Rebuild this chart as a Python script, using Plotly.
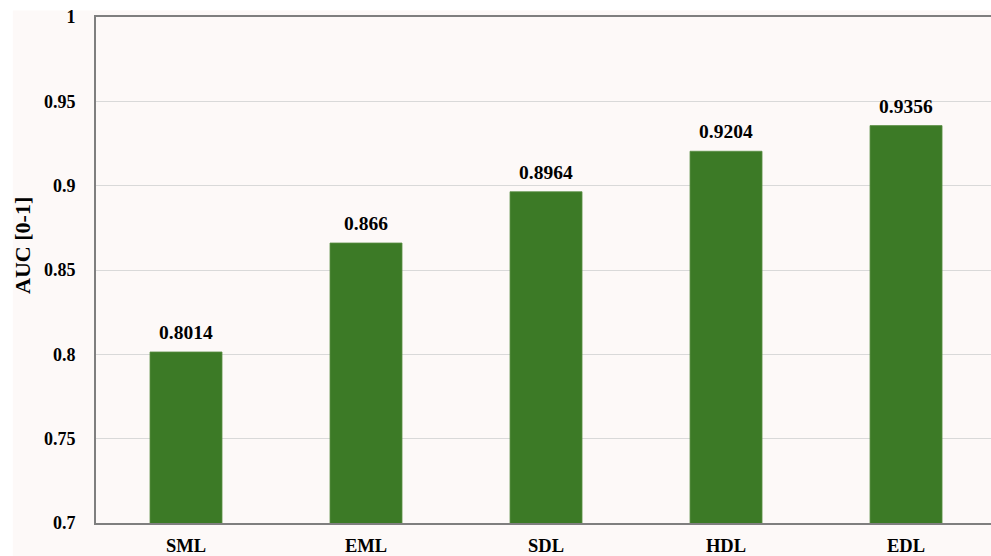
import plotly.graph_objects as go

categories = ["SML", "EML", "SDL", "HDL", "EDL"]
auc_values = [0.8014, 0.866, 0.8964, 0.9204, 0.9356]
y_ticks = [0.7, 0.75, 0.8, 0.85, 0.9, 0.95, 1.0]
y_tick_labels = ["0.7", "0.75", "0.8", "0.85", "0.9", "0.95", "1"]

FONT = "Liberation Serif, Times New Roman, serif"
BG = "#FDF9F8"

fig = go.Figure()
fig.add_trace(go.Bar(
    x=list(range(len(categories))),
    y=auc_values,
    base=0,
    width=0.4,
    marker=dict(color="#3C7A26", line=dict(color="#5A8F45", width=0.8)),
    hoverinfo="x+y",
))

for i, v in enumerate(auc_values):
    fig.add_annotation(
        x=i, y=v, text=str(v), showarrow=False, yanchor="bottom", yshift=7,
        font=dict(family=FONT, size=19.5, color="black", weight="bold"),
    )

fig.add_annotation(
    xref="paper", yref="paper", x=-0.083, y=0.549,
    text="AUC [0-1]", showarrow=False, textangle=-90,
    xanchor="center", yanchor="middle",
    font=dict(family=FONT, size=22, color="black", weight="bold"),
)

fig.add_shape(type="rect", xref="paper", yref="paper",
              x0=-0.093, x1=1.01, y0=-0.07, y1=1.0128,
              fillcolor=BG, line=dict(width=0), layer="below")

fig.update_layout(
    width=991, height=556,
    margin=dict(l=96, r=0, t=17, b=30),
    paper_bgcolor="white",
    plot_bgcolor=BG,
    showlegend=False,
    font=dict(family=FONT, size=16, color="black", weight="bold"),
    xaxis=dict(
        range=[-0.5, 4.472],
        tickmode="array",
        tickvals=list(range(len(categories))),
        ticktext=categories,
        showgrid=False,
        showline=True, linecolor="#7F7F7F", linewidth=2, mirror=True,
        ticks="", zeroline=False,
        tickfont=dict(family=FONT, size=18.5, color="black", weight="bold"),
        ticklabelstandoff=5,
    ),
    yaxis=dict(
        range=[0.7, 1.0],
        tickmode="array",
        tickvals=y_ticks,
        ticktext=y_tick_labels,
        showgrid=True, gridcolor="#D9D9D9", gridwidth=1,
        showline=True, linecolor="#7F7F7F", linewidth=2,
        ticks="", zeroline=False,
        tickfont=dict(family=FONT, size=18, color="black", weight="bold"),
        ticklabelstandoff=15,
    ),
    bargap=0.6,
)

fig.write_html("out.html")
